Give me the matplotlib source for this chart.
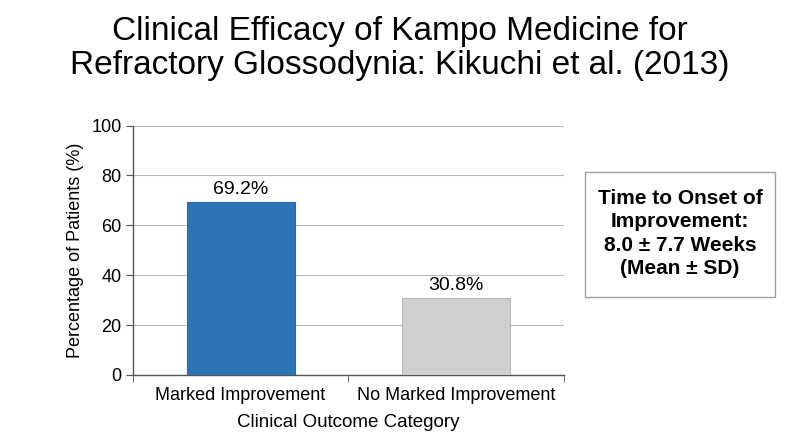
import matplotlib.pyplot as plt
from matplotlib.patches import Rectangle

# data
categories = ['Marked Improvement', 'No Marked Improvement']
percentages = [69.2, 30.8]
bar_colors = ['#2E75B6', '#D0D0D0']
bar_edges = ['#2A6AA6', '#B8B8B8']
onset_text = 'Time to Onset of\nImprovement:\n8.0 \u00b1 7.7 Weeks\n(Mean \u00b1 SD)'

plt.rcParams['font.family'] = ['Liberation Sans', 'DejaVu Sans']

fig = plt.figure(figsize=(8, 4.36), dpi=100)
ax = fig.add_axes([0.166, 0.140, 0.539, 0.572])

x = list(range(len(categories)))
bars = ax.bar(x, percentages, width=0.5, color=bar_colors, edgecolor=bar_edges,
              linewidth=0.8, zorder=3)
for b, v in zip(bars, percentages):
    ax.annotate(f'{v:.1f}%', (b.get_x() + b.get_width() / 2, v),
                xytext=(0, 3), textcoords='offset points',
                ha='center', va='bottom', fontsize=14)

ax.set_xlim(-0.5, 1.5)
ax.set_ylim(0, 100)
ax.set_yticks([0, 20, 40, 60, 80, 100])
ax.set_xticks(x)
ax.set_xticklabels(categories)
# category boundary ticks on the x axis
ax.set_xticks([-0.5, 0.5, 1.5], minor=True)
ax.tick_params(axis='x', which='major', length=0, labelsize=13, pad=9)
ax.tick_params(axis='x', which='minor', length=5, color='#555555')
ax.tick_params(axis='y', length=5, color='#555555', labelsize=13, pad=3)

ax.yaxis.grid(True, color='#BBBBBB', linewidth=0.8, zorder=0)
ax.set_axisbelow(True)
for s in ['top', 'right']:
    ax.spines[s].set_visible(False)
for s in ['left', 'bottom']:
    ax.spines[s].set_color('#555555')
    ax.spines[s].set_linewidth(1.0)

ax.set_xlabel('Clinical Outcome Category', fontsize=13.5, labelpad=7)
ax.set_ylabel('Percentage of Patients (%)', fontsize=13, labelpad=5)

fig.text(0.5, 0.889, 'Clinical Efficacy of Kampo Medicine for\nRefractory Glossodynia: Kikuchi et al. (2013)',
         ha='center', va='center', fontsize=24, linespacing=1.12)

box = Rectangle((0.731, 0.318), 0.238, 0.288, transform=fig.transFigure,
                facecolor='white', edgecolor='#A0A0A0', linewidth=1.0)
fig.patches.append(box)
fig.text(0.85, 0.465, onset_text, ha='center', va='center', fontsize=15,
         fontweight='bold', linespacing=1.3)

fig.savefig('out.png', dpi=100)
